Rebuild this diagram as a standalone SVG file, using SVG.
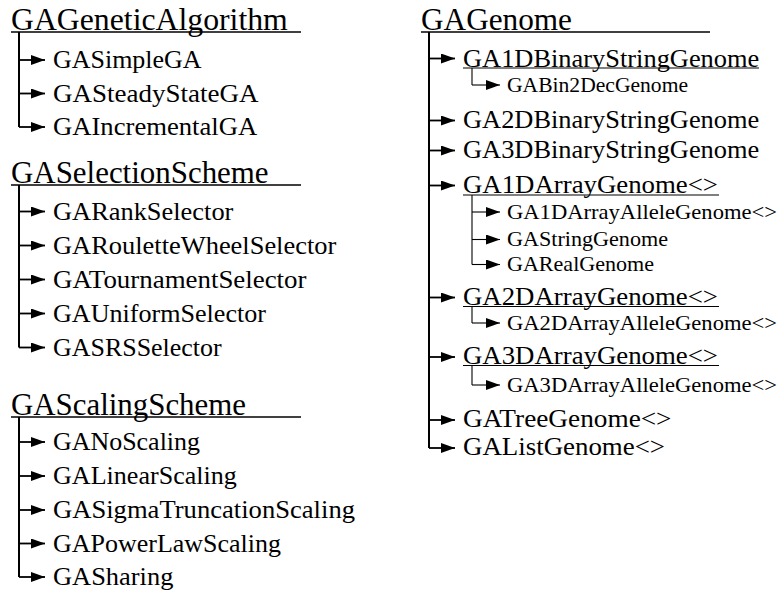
<svg xmlns="http://www.w3.org/2000/svg" width="779" height="592" viewBox="0 0 779 592">
  <style>
    .lbl { font-family: "Liberation Serif", "Times New Roman", serif; fill: #000; }
    .head { font-size: 30.5px; }
    .item { font-size: 25.5px; }
    .sub { font-size: 21.2px; }
    .trunk { fill: none; stroke: #000; stroke-width: 2; }
    .branch { fill: none; stroke: #000; stroke-width: 1.1; }
    .uline { stroke: #000; stroke-width: 1.6; }
    .uline-s { stroke: #000; stroke-width: 1.1; }
    .arrow { fill: none; stroke: #000; stroke-width: 1.8; marker-end: url(#head); }
    .arrow-s { fill: none; stroke: #000; stroke-width: 1.1; marker-end: url(#head); }
  </style>
  <defs>
    <marker id="head" viewBox="0 0 14 10" refX="14" refY="5" markerWidth="14" markerHeight="10" markerUnits="userSpaceOnUse" orient="auto">
      <path d="M0,0 L14,5 L0,10 Z" fill="#000"/>
    </marker>
  </defs>

  <rect width="779" height="592" fill="#fff"/>

  <!-- connectors: heading underlines, trunks and arrows -->
  <g id="connectors">
    <!-- GAGeneticAlgorithm -->
    <line class="uline" x1="11" y1="32" x2="301" y2="32"/>
    <path class="trunk" d="M19,32 V127"/>
    <path class="arrow" d="M19,60 H45"/>
    <path class="arrow" d="M19,93.5 H45"/>
    <path class="arrow" d="M19,127 H45"/>

    <!-- GASelectionScheme -->
    <line class="uline" x1="11" y1="185" x2="301" y2="185"/>
    <path class="trunk" d="M19,185 V347.5"/>
    <path class="arrow" d="M19,211.5 H45"/>
    <path class="arrow" d="M19,245.5 H45"/>
    <path class="arrow" d="M19,279.5 H45"/>
    <path class="arrow" d="M19,313.5 H45"/>
    <path class="arrow" d="M19,347.5 H45"/>

    <!-- GAScalingScheme -->
    <line class="uline" x1="11" y1="417" x2="301" y2="417"/>
    <path class="trunk" d="M19,417 V577"/>
    <path class="arrow" d="M19,442 H45"/>
    <path class="arrow" d="M19,476 H45"/>
    <path class="arrow" d="M19,510 H45"/>
    <path class="arrow" d="M19,543.5 H45"/>
    <path class="arrow" d="M19,577 H45"/>

    <!-- GAGenome -->
    <line class="uline" x1="421" y1="32" x2="710" y2="32"/>
    <path class="trunk" d="M429,32 V448"/>
    <path class="arrow" d="M429,58.5 H455"/>
    <path class="arrow" d="M429,120.5 H455"/>
    <path class="arrow" d="M429,150.5 H455"/>
    <path class="arrow" d="M429,185.5 H455"/>
    <path class="arrow" d="M429,297.5 H455"/>
    <path class="arrow" d="M429,357 H455"/>
    <path class="arrow" d="M429,420 H455"/>
    <path class="arrow" d="M429,448 H455"/>

    <!-- underlined genomes and their subclasses -->
    <line class="uline-s" x1="463" y1="68" x2="759" y2="68"/>
    <path class="branch" d="M472,68 V85"/>
    <path class="arrow-s" d="M472,85 H500"/>

    <line class="uline-s" x1="463" y1="195" x2="719" y2="195"/>
    <path class="branch" d="M472,195 V264.5"/>
    <path class="arrow-s" d="M472,212 H500"/>
    <path class="arrow-s" d="M472,239.5 H500"/>
    <path class="arrow-s" d="M472,264.5 H500"/>

    <line class="uline-s" x1="463" y1="306.5" x2="719" y2="306.5"/>
    <path class="branch" d="M472,306.5 V323"/>
    <path class="arrow-s" d="M472,323 H500"/>

    <line class="uline-s" x1="463" y1="365.5" x2="719" y2="365.5"/>
    <path class="branch" d="M472,365.5 V385"/>
    <path class="arrow-s" d="M472,385 H500"/>
  </g>

  <!-- GAGeneticAlgorithm family -->
  <g id="GAGeneticAlgorithm"><text class="lbl head" x="11" y="30" textLength="276.8" lengthAdjust="spacingAndGlyphs">GAGeneticAlgorithm</text></g>
  <g id="GASimpleGA"><text class="lbl item" x="53" y="68" textLength="148.6" lengthAdjust="spacingAndGlyphs">GASimpleGA</text></g>
  <g id="GASteadyStateGA"><text class="lbl item" x="53" y="101.5" textLength="205.5" lengthAdjust="spacingAndGlyphs">GASteadyStateGA</text></g>
  <g id="GAIncrementalGA"><text class="lbl item" x="53" y="135" textLength="204.2" lengthAdjust="spacingAndGlyphs">GAIncrementalGA</text></g>

  <!-- GASelectionScheme family -->
  <g id="GASelectionScheme"><text class="lbl head" x="11" y="183" textLength="257.6" lengthAdjust="spacingAndGlyphs">GASelectionScheme</text></g>
  <g id="GARankSelector"><text class="lbl item" x="53" y="219.5" textLength="180.4" lengthAdjust="spacingAndGlyphs">GARankSelector</text></g>
  <g id="GARouletteWheelSelector"><text class="lbl item" x="53" y="253.5" textLength="283.3" lengthAdjust="spacingAndGlyphs">GARouletteWheelSelector</text></g>
  <g id="GATournamentSelector"><text class="lbl item" x="53" y="287.5" textLength="253.5" lengthAdjust="spacingAndGlyphs">GATournamentSelector</text></g>
  <g id="GAUniformSelector"><text class="lbl item" x="53" y="321.5" textLength="213" lengthAdjust="spacingAndGlyphs">GAUniformSelector</text></g>
  <g id="GASRSSelector"><text class="lbl item" x="53" y="355.5" textLength="168.7" lengthAdjust="spacingAndGlyphs">GASRSSelector</text></g>

  <!-- GAScalingScheme family -->
  <g id="GAScalingScheme"><text class="lbl head" x="11" y="415" textLength="235" lengthAdjust="spacingAndGlyphs">GAScalingScheme</text></g>
  <g id="GANoScaling"><text class="lbl item" x="53" y="450" textLength="147" lengthAdjust="spacingAndGlyphs">GANoScaling</text></g>
  <g id="GALinearScaling"><text class="lbl item" x="53" y="484" textLength="183.8" lengthAdjust="spacingAndGlyphs">GALinearScaling</text></g>
  <g id="GASigmaTruncationScaling"><text class="lbl item" x="53" y="518" textLength="302" lengthAdjust="spacingAndGlyphs">GASigmaTruncationScaling</text></g>
  <g id="GAPowerLawScaling"><text class="lbl item" x="53" y="551.5" textLength="228" lengthAdjust="spacingAndGlyphs">GAPowerLawScaling</text></g>
  <g id="GASharing"><text class="lbl item" x="53" y="585" textLength="120.4" lengthAdjust="spacingAndGlyphs">GASharing</text></g>

  <!-- GAGenome family -->
  <g id="GAGenome"><text class="lbl head" x="421" y="30" textLength="151" lengthAdjust="spacingAndGlyphs">GAGenome</text></g>
  <g id="GA1DBinaryStringGenome"><text class="lbl item" x="463" y="66.5" textLength="296.3" lengthAdjust="spacingAndGlyphs">GA1DBinaryStringGenome</text></g>
  <g id="GABin2DecGenome"><text class="lbl sub" x="507" y="92" textLength="181" lengthAdjust="spacingAndGlyphs">GABin2DecGenome</text></g>
  <g id="GA2DBinaryStringGenome"><text class="lbl item" x="463" y="128" textLength="296.3" lengthAdjust="spacingAndGlyphs">GA2DBinaryStringGenome</text></g>
  <g id="GA3DBinaryStringGenome"><text class="lbl item" x="463" y="158" textLength="296.3" lengthAdjust="spacingAndGlyphs">GA3DBinaryStringGenome</text></g>
  <g id="GA1DArrayGenome"><text class="lbl item" x="463" y="193" textLength="255" lengthAdjust="spacingAndGlyphs">GA1DArrayGenome&lt;&gt;</text></g>
  <g id="GA1DArrayAlleleGenome"><text class="lbl sub" x="507" y="218.5" textLength="270" lengthAdjust="spacingAndGlyphs">GA1DArrayAlleleGenome&lt;&gt;</text></g>
  <g id="GAStringGenome"><text class="lbl sub" x="507" y="246" textLength="161" lengthAdjust="spacingAndGlyphs">GAStringGenome</text></g>
  <g id="GARealGenome"><text class="lbl sub" x="507" y="271" textLength="147" lengthAdjust="spacingAndGlyphs">GARealGenome</text></g>
  <g id="GA2DArrayGenome"><text class="lbl item" x="463" y="305" textLength="255" lengthAdjust="spacingAndGlyphs">GA2DArrayGenome&lt;&gt;</text></g>
  <g id="GA2DArrayAlleleGenome"><text class="lbl sub" x="507" y="329.5" textLength="270" lengthAdjust="spacingAndGlyphs">GA2DArrayAlleleGenome&lt;&gt;</text></g>
  <g id="GA3DArrayGenome"><text class="lbl item" x="463" y="364" textLength="255" lengthAdjust="spacingAndGlyphs">GA3DArrayGenome&lt;&gt;</text></g>
  <g id="GA3DArrayAlleleGenome"><text class="lbl sub" x="507" y="391.5" textLength="270" lengthAdjust="spacingAndGlyphs">GA3DArrayAlleleGenome&lt;&gt;</text></g>
  <g id="GATreeGenome"><text class="lbl item" x="463" y="427" textLength="208.5" lengthAdjust="spacingAndGlyphs">GATreeGenome&lt;&gt;</text></g>
  <g id="GAListGenome"><text class="lbl item" x="463" y="455" textLength="202" lengthAdjust="spacingAndGlyphs">GAListGenome&lt;&gt;</text></g>
</svg>
